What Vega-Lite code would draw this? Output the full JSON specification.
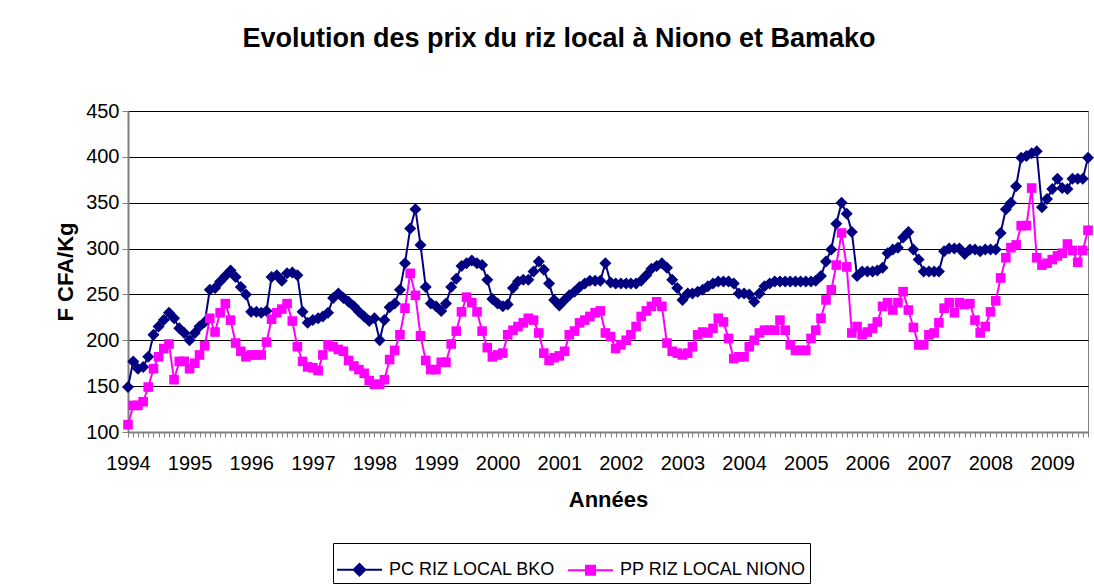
{
  "$schema": "https://vega.github.io/schema/vega-lite/v6.json",
  "width": 960,
  "height": 321,
  "autosize": {"type": "none"},
  "padding": {"left": 128, "top": 111, "right": 6, "bottom": 156},
  "background": "white",
  "title": {
    "text": "Evolution des prix du riz local à Niono et Bamako",
    "font": "Liberation Sans",
    "fontSize": 27,
    "fontWeight": "bold",
    "color": "#000000",
    "anchor": "middle",
    "dx": -49,
    "offset": 48
  },
  "data": {
    "values": [
      {"d":"1994-01","bko":149,"niono":108},{"d":"1994-02","bko":177,"niono":129},{"d":"1994-03","bko":169,"niono":129},{"d":"1994-04","bko":171,"niono":133},{"d":"1994-05","bko":182,"niono":149},{"d":"1994-06","bko":206,"niono":169},{"d":"1994-07","bko":215,"niono":182},{"d":"1994-08","bko":222,"niono":191},{"d":"1994-09","bko":230,"niono":196},{"d":"1994-10","bko":224,"niono":157},{"d":"1994-11","bko":213,"niono":177},{"d":"1994-12","bko":208,"niono":177},
      {"d":"1995-01","bko":200,"niono":169},{"d":"1995-02","bko":208,"niono":175},{"d":"1995-03","bko":215,"niono":184},{"d":"1995-04","bko":220,"niono":194},{"d":"1995-05","bko":255,"niono":224},{"d":"1995-06","bko":257,"niono":209},{"d":"1995-07","bko":264,"niono":230},{"d":"1995-08","bko":270,"niono":240},{"d":"1995-09","bko":276,"niono":222},{"d":"1995-10","bko":269,"niono":197},{"d":"1995-11","bko":258,"niono":188},{"d":"1995-12","bko":250,"niono":182},
      {"d":"1996-01","bko":231,"niono":184},{"d":"1996-02","bko":231,"niono":184},{"d":"1996-03","bko":230,"niono":184},{"d":"1996-04","bko":232,"niono":198},{"d":"1996-05","bko":269,"niono":223},{"d":"1996-06","bko":271,"niono":230},{"d":"1996-07","bko":265,"niono":234},{"d":"1996-08","bko":273,"niono":240},{"d":"1996-09","bko":274,"niono":221},{"d":"1996-10","bko":271,"niono":193},{"d":"1996-11","bko":231,"niono":177},{"d":"1996-12","bko":219,"niono":171},
      {"d":"1997-01","bko":222,"niono":170},{"d":"1997-02","bko":224,"niono":167},{"d":"1997-03","bko":226,"niono":184},{"d":"1997-04","bko":230,"niono":195},{"d":"1997-05","bko":246,"niono":193},{"d":"1997-06","bko":251,"niono":190},{"d":"1997-07","bko":246,"niono":188},{"d":"1997-08","bko":242,"niono":178},{"d":"1997-09","bko":237,"niono":172},{"d":"1997-10","bko":231,"niono":168},{"d":"1997-11","bko":226,"niono":164},{"d":"1997-12","bko":221,"niono":156},
      {"d":"1998-01","bko":224,"niono":152},{"d":"1998-02","bko":200,"niono":152},{"d":"1998-03","bko":222,"niono":157},{"d":"1998-04","bko":236,"niono":179},{"d":"1998-05","bko":240,"niono":189},{"d":"1998-06","bko":255,"niono":206},{"d":"1998-07","bko":284,"niono":235},{"d":"1998-08","bko":322,"niono":273},{"d":"1998-09","bko":343,"niono":249},{"d":"1998-10","bko":304,"niono":205},{"d":"1998-11","bko":258,"niono":178},{"d":"1998-12","bko":240,"niono":168},
      {"d":"1999-01","bko":237,"niono":168},{"d":"1999-02","bko":232,"niono":176},{"d":"1999-03","bko":240,"niono":176},{"d":"1999-04","bko":258,"niono":196},{"d":"1999-05","bko":267,"niono":210},{"d":"1999-06","bko":281,"niono":231},{"d":"1999-07","bko":284,"niono":247},{"d":"1999-08","bko":287,"niono":241},{"d":"1999-09","bko":284,"niono":231},{"d":"1999-10","bko":282,"niono":210},{"d":"1999-11","bko":266,"niono":192},{"d":"1999-12","bko":245,"niono":182},
      {"d":"2000-01","bko":240,"niono":184},{"d":"2000-02","bko":237,"niono":186},{"d":"2000-03","bko":239,"niono":206},{"d":"2000-04","bko":257,"niono":211},{"d":"2000-05","bko":264,"niono":215},{"d":"2000-06","bko":266,"niono":219},{"d":"2000-07","bko":266,"niono":224},{"d":"2000-08","bko":275,"niono":222},{"d":"2000-09","bko":286,"niono":208},{"d":"2000-10","bko":277,"niono":186},{"d":"2000-11","bko":262,"niono":178},{"d":"2000-12","bko":244,"niono":181},
      {"d":"2001-01","bko":238,"niono":183},{"d":"2001-02","bko":244,"niono":188},{"d":"2001-03","bko":249,"niono":206},{"d":"2001-04","bko":253,"niono":210},{"d":"2001-05","bko":258,"niono":219},{"d":"2001-06","bko":262,"niono":222},{"d":"2001-07","bko":265,"niono":226},{"d":"2001-08","bko":265,"niono":230},{"d":"2001-09","bko":265,"niono":232},{"d":"2001-10","bko":284,"niono":208},{"d":"2001-11","bko":263,"niono":204},{"d":"2001-12","bko":262,"niono":191},
      {"d":"2002-01","bko":262,"niono":195},{"d":"2002-02","bko":262,"niono":200},{"d":"2002-03","bko":262,"niono":206},{"d":"2002-04","bko":262,"niono":215},{"d":"2002-05","bko":265,"niono":226},{"d":"2002-06","bko":271,"niono":232},{"d":"2002-07","bko":278,"niono":237},{"d":"2002-08","bko":281,"niono":242},{"d":"2002-09","bko":284,"niono":237},{"d":"2002-10","bko":279,"niono":197},{"d":"2002-11","bko":266,"niono":188},{"d":"2002-12","bko":257,"niono":186},
      {"d":"2003-01","bko":244,"niono":184},{"d":"2003-02","bko":251,"niono":186},{"d":"2003-03","bko":251,"niono":193},{"d":"2003-04","bko":253,"niono":206},{"d":"2003-05","bko":255,"niono":209},{"d":"2003-06","bko":259,"niono":208},{"d":"2003-07","bko":262,"niono":213},{"d":"2003-08","bko":264,"niono":224},{"d":"2003-09","bko":264,"niono":220},{"d":"2003-10","bko":264,"niono":202},{"d":"2003-11","bko":262,"niono":180},{"d":"2003-12","bko":251,"niono":182},
      {"d":"2004-01","bko":251,"niono":182},{"d":"2004-02","bko":250,"niono":193},{"d":"2004-03","bko":242,"niono":200},{"d":"2004-04","bko":251,"niono":208},{"d":"2004-05","bko":259,"niono":211},{"d":"2004-06","bko":262,"niono":211},{"d":"2004-07","bko":264,"niono":211},{"d":"2004-08","bko":264,"niono":222},{"d":"2004-09","bko":264,"niono":211},{"d":"2004-10","bko":264,"niono":195},{"d":"2004-11","bko":264,"niono":189},{"d":"2004-12","bko":264,"niono":189},
      {"d":"2005-01","bko":264,"niono":189},{"d":"2005-02","bko":264,"niono":202},{"d":"2005-03","bko":265,"niono":211},{"d":"2005-04","bko":270,"niono":224},{"d":"2005-05","bko":286,"niono":244},{"d":"2005-06","bko":299,"niono":255},{"d":"2005-07","bko":327,"niono":282},{"d":"2005-08","bko":350,"niono":317},{"d":"2005-09","bko":338,"niono":280},{"d":"2005-10","bko":318,"niono":208},{"d":"2005-11","bko":270,"niono":215},{"d":"2005-12","bko":275,"niono":206},
      {"d":"2006-01","bko":275,"niono":209},{"d":"2006-02","bko":275,"niono":213},{"d":"2006-03","bko":276,"niono":220},{"d":"2006-04","bko":279,"niono":237},{"d":"2006-05","bko":295,"niono":241},{"d":"2006-06","bko":299,"niono":233},{"d":"2006-07","bko":301,"niono":241},{"d":"2006-08","bko":312,"niono":253},{"d":"2006-09","bko":318,"niono":233},{"d":"2006-10","bko":299,"niono":214},{"d":"2006-11","bko":288,"niono":195},{"d":"2006-12","bko":275,"niono":195},
      {"d":"2007-01","bko":275,"niono":206},{"d":"2007-02","bko":275,"niono":208},{"d":"2007-03","bko":275,"niono":219},{"d":"2007-04","bko":297,"niono":235},{"d":"2007-05","bko":300,"niono":241},{"d":"2007-06","bko":300,"niono":230},{"d":"2007-07","bko":300,"niono":241},{"d":"2007-08","bko":294,"niono":239},{"d":"2007-09","bko":299,"niono":240},{"d":"2007-10","bko":299,"niono":222},{"d":"2007-11","bko":297,"niono":208},{"d":"2007-12","bko":299,"niono":215},
      {"d":"2008-01","bko":299,"niono":231},{"d":"2008-02","bko":299,"niono":243},{"d":"2008-03","bko":317,"niono":268},{"d":"2008-04","bko":343,"niono":290},{"d":"2008-05","bko":350,"niono":301},{"d":"2008-06","bko":368,"niono":304},{"d":"2008-07","bko":399,"niono":325},{"d":"2008-08","bko":401,"niono":325},{"d":"2008-09","bko":404,"niono":366},{"d":"2008-10","bko":406,"niono":290},{"d":"2008-11","bko":345,"niono":282},{"d":"2008-12","bko":354,"niono":284},
      {"d":"2009-01","bko":365,"niono":288},{"d":"2009-02","bko":376,"niono":292},{"d":"2009-03","bko":366,"niono":295},{"d":"2009-04","bko":365,"niono":305},{"d":"2009-05","bko":376,"niono":298},{"d":"2009-06","bko":376,"niono":285},{"d":"2009-07","bko":376,"niono":298},{"d":"2009-08","bko":399,"niono":320}
    ],
    "format": {"parse": {"d": "date:'%Y-%m'"}}
  },
  "transform": [{"fold": ["bko", "niono"], "as": ["serie", "prix"]}],
  "encoding": {
    "x": {
      "field": "d",
      "type": "temporal",
      "scale": {"domain": [{"year": 1994, "month": 1, "date": 1}, {"year": 2009, "month": 8, "date": 1}]},
      "axis": {
        "title": "Années",
        "tickCount": {"interval": "month", "step": 1},
        "labelExpr": "month(datum.value) == 0 ? timeFormat(datum.value, '%Y') : ''",
        "labelOverlap": false,
        "labelFlush": false,
        "labelBound": false,
        "grid": false,
        "tickSize": 5,
        "labelPadding": 16,
        "titlePadding": 16
      }
    },
    "y": {
      "field": "prix",
      "type": "quantitative",
      "scale": {"domain": [100, 450], "nice": false, "zero": false},
      "axis": {
        "title": "F CFA/Kg",
        "values": [100, 150, 200, 250, 300, 350, 400, 450],
        "grid": true,
        "tickSize": 6,
        "labelPadding": 3,
        "titlePadding": 8
      }
    },
    "color": {
      "field": "serie",
      "type": "nominal",
      "scale": {"domain": ["bko", "niono"], "range": ["#000080", "#FF00FF"]},
      "legend": {
        "title": null,
        "orient": "none",
        "legendX": 205,
        "legendY": 432,
        "direction": "horizontal",
        "strokeColor": "#000000",
        "fillColor": "#ffffff",
        "padding": 3,
        "symbolSize": 2025,
        "symbolType": "M-1,0L1,0",
        "symbolStrokeWidth": 2,
        "labelFont": "Liberation Sans",
        "labelFontSize": 18,
        "labelLimit": 400,
        "labelColor": "#000000",
        "labelOffset": 6,
        "columnPadding": 8,
        "labelExpr": "datum.value === 'bko' ? 'PC RIZ LOCAL BKO' : 'PP RIZ LOCAL NIONO'",
        "encode": {
          "symbols": {
            "update": {
              "shape": {"signal": "datum.value === 'bko' ? 'M-1,0L1,0M0,-0.26L0.26,0L0,0.26L-0.26,0Z' : 'M-1,0L1,0M-0.2,-0.2L0.2,-0.2L0.2,0.2L-0.2,0.2Z'"},
              "fill": {"signal": "datum.value === 'bko' ? '#000080' : '#FF00FF'"},
              "stroke": {"signal": "datum.value === 'bko' ? '#000080' : '#FF00FF'"},
              "strokeWidth": {"value": 2},
              "opacity": {"value": 1}
            }
          }
        }
      }
    }
  },
  "layer": [
    {
      "mark": {"type": "line", "strokeWidth": 2}
    },
    {
      "transform": [{"filter": "datum.serie === 'bko'"}],
      "mark": {"type": "point", "filled": true, "opacity": 1, "size": 144, "shape": "M0,-1L1,0L0,1L-1,0Z"}
    },
    {
      "transform": [{"filter": "datum.serie === 'niono'"}],
      "mark": {"type": "point", "filled": true, "opacity": 1, "size": 144, "shape": "M-0.8,-0.8L0.8,-0.8L0.8,0.8L-0.8,0.8Z"}
    }
  ],
  "config": {
    "view": {"stroke": "#808080", "strokeWidth": 1},
    "axis": {
      "labelFont": "Liberation Sans",
      "labelFontSize": 20,
      "labelColor": "#000000",
      "titleFont": "Liberation Sans",
      "titleFontSize": 22,
      "titleFontWeight": "bold",
      "titleColor": "#000000",
      "domainColor": "#808080",
      "domainWidth": 2,
      "tickColor": "#808080",
      "tickWidth": 1,
      "gridColor": "#000000",
      "gridWidth": 1
    }
  }
}
